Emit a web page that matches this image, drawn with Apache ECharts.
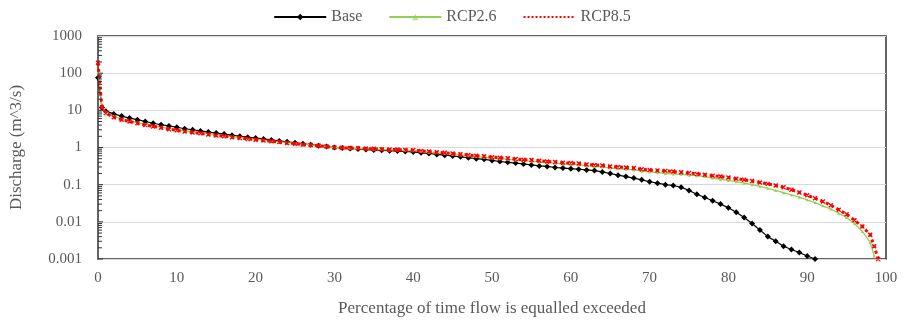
<!DOCTYPE html>
<html lang="en">
<head>
<meta charset="UTF-8">
<title>Flow duration curves</title>
<style>
  html, body { margin: 0; padding: 0; background: #fff; }
  #main { width: 904px; height: 322px; }
</style>
</head>
<body>
<div id="main"></div>
<script src="https://cdn.jsdelivr.net/npm/echarts@6/dist/echarts.min.js"></script>
<script>
// percentage of time exceeded (x positions)
var pct = [0, 0.5, 1, 2, 3, 4, 5, 6, 7, 8, 9, 10,
  11, 12, 13, 14, 15, 16, 17, 18, 19, 20,
  21, 22, 23, 24, 25, 26, 27, 28, 29, 30,
  31, 32, 33, 34, 35, 36, 37, 38, 39, 40,
  41, 42, 43, 44, 45, 46, 47, 48, 49, 50,
  51, 52, 53, 54, 55, 56, 57, 58, 59, 60,
  61, 62, 63, 64, 65, 66, 67, 68, 69, 70,
  71, 72, 73, 74, 75, 76, 77, 78, 79, 80,
  81, 82, 83, 84, 85, 86, 87, 88, 89, 90,
  91, 92, 93, 94, 95, 96, 97, 98, 98.5, 99];

// discharge, m^3/s
var base = [75, 12, 9.5, 8, 7, 6.2, 5.6, 5.0, 4.5, 4.1, 3.8, 3.5,
  3.2, 3.0, 2.8, 2.6, 2.45, 2.3, 2.15, 2.0, 1.9, 1.8,
  1.7, 1.6, 1.5, 1.42, 1.34, 1.26, 1.19, 1.12, 1.06, 1.0,
  0.97, 0.94, 0.91, 0.88, 0.86, 0.84, 0.82, 0.8, 0.78, 0.76,
  0.72, 0.69, 0.65, 0.62, 0.59, 0.56, 0.53, 0.5, 0.48, 0.45,
  0.42, 0.4, 0.38, 0.36, 0.34, 0.32, 0.31, 0.29, 0.28, 0.27,
  0.26, 0.25, 0.24, 0.22, 0.2, 0.18, 0.165, 0.15, 0.135, 0.12,
  0.11, 0.1, 0.095, 0.085, 0.07, 0.055, 0.045, 0.037, 0.03, 0.024,
  0.018, 0.013, 0.009, 0.006, 0.004, 0.003, 0.0022, 0.0018, 0.0015, 0.0012,
  0.001];

var rcp26 = [110, 12.5, 9, 7, 5.8, 5.2, 4.7, 4.2, 3.85, 3.55, 3.25, 3.0,
  2.8, 2.65, 2.5, 2.35, 2.2, 2.08, 1.97, 1.86, 1.76, 1.67,
  1.58, 1.5, 1.42, 1.35, 1.29, 1.23, 1.17, 1.12, 1.05, 1.0,
  0.98, 0.96, 0.94, 0.92, 0.9, 0.88, 0.86, 0.85, 0.83, 0.82,
  0.78, 0.75, 0.72, 0.69, 0.66, 0.63, 0.6, 0.57, 0.55, 0.52,
  0.5, 0.48, 0.46, 0.44, 0.43, 0.41, 0.39, 0.38, 0.36, 0.35,
  0.34, 0.32, 0.31, 0.3, 0.28, 0.27, 0.26, 0.25, 0.23, 0.22,
  0.21, 0.2, 0.195, 0.19, 0.18, 0.175, 0.165, 0.15, 0.14, 0.13,
  0.12, 0.11, 0.1, 0.09, 0.08, 0.07, 0.061, 0.053, 0.046, 0.039,
  0.033, 0.027, 0.022, 0.017, 0.013, 0.009, 0.0055, 0.0028, 0.0012];

var rcp85 = [190, 12, 8.5, 6.5, 5.6, 5.0, 4.5, 4.0, 3.7, 3.4, 3.1, 2.9,
  2.7, 2.55, 2.4, 2.25, 2.1, 2.0, 1.9, 1.8, 1.7, 1.62,
  1.54, 1.47, 1.4, 1.33, 1.27, 1.21, 1.16, 1.11, 1.06, 1.0,
  0.98, 0.97, 0.95, 0.93, 0.92, 0.9, 0.89, 0.88, 0.86, 0.85,
  0.81, 0.78, 0.75, 0.72, 0.69, 0.66, 0.63, 0.6, 0.58, 0.55,
  0.53, 0.51, 0.49, 0.47, 0.46, 0.44, 0.42, 0.41, 0.39, 0.38,
  0.37, 0.35, 0.34, 0.33, 0.31, 0.3, 0.29, 0.28, 0.26, 0.25,
  0.24, 0.235, 0.225, 0.215, 0.205, 0.195, 0.185, 0.175, 0.165, 0.155,
  0.145, 0.135, 0.125, 0.115, 0.105, 0.095, 0.085, 0.073, 0.062, 0.052,
  0.043, 0.035, 0.028, 0.021, 0.016, 0.011, 0.0075, 0.0045, 0.0022, 0.001];

var yTicks = [0.001, 0.01, 0.1, 1, 10, 100, 1000];

function pairs(vals) {
  var out = [];
  for (var i = 0; i < vals.length; i++) out.push([pct[i], vals[i]]);
  return out;
}

var FONT = '"Liberation Serif", "Times New Roman", serif';
var GREY = '#595959';

var myChart = echarts.init(document.getElementById('main'));

var option = {
  animation: false,
  textStyle: { fontFamily: FONT },
  legend: {
    top: 4,
    left: 'center',
    itemWidth: 52,
    itemHeight: 8,
    itemGap: 26,
    textStyle: { fontFamily: FONT, fontSize: 16, color: GREY },
    data: [
      { name: 'Base' },
      { name: 'RCP2.6', itemStyle: { opacity: 0.6 } },
      { name: 'RCP8.5', itemStyle: { opacity: 0 } }
    ]
  },
  grid: {
    left: 98,
    top: 36,
    right: 18,
    bottom: 62,
    show: true,
    borderColor: '#333',
    borderWidth: 1.5
  },
  xAxis: {
    type: 'value',
    min: 0,
    max: 100,
    interval: 10,
    name: 'Percentage of time flow is equalled exceeded',
    nameLocation: 'middle',
    nameGap: 41,
    nameTextStyle: { fontFamily: FONT, fontSize: 17, color: GREY },
    axisLine: { show: false },
    axisTick: { show: false },
    splitLine: { show: false },
    axisLabel: { fontFamily: FONT, fontSize: 15, color: GREY, margin: 12 }
  },
  yAxis: {
    type: 'log',
    logBase: 10,
    min: 0.001,
    max: 1000,
    name: 'Discharge (m^3/s)',
    nameLocation: 'middle',
    nameGap: 73,
    nameTextStyle: { fontFamily: FONT, fontSize: 17, color: GREY },
    axisLine: { show: false },
    axisTick: { show: false },
    splitLine: { show: true, lineStyle: { color: '#d9d9d9', width: 1 } },
    axisLabel: {
      fontFamily: FONT, fontSize: 15, color: GREY, margin: 16,
      formatter: function (v) {
        for (var i = 0; i < yTicks.length; i++) {
          if (Math.abs(v - yTicks[i]) / yTicks[i] < 1e-6) return String(yTicks[i]);
        }
        return '';
      }
    }
  },
  series: [
    {
      name: 'Base',
      type: 'line',
      data: pairs(base),
      symbol: 'diamond',
      symbolSize: 6,
      showAllSymbol: true,
      itemStyle: { color: '#000' },
      lineStyle: { color: '#000', width: 1.2 },
      z: 2
    },
    {
      name: 'RCP2.6',
      type: 'line',
      data: pairs(rcp26),
      symbol: 'triangle',
      symbolSize: 3,
      showAllSymbol: true,
      itemStyle: { color: '#92d050' },
      lineStyle: { color: '#92d050', width: 1.3 },
      z: 3
    },
    {
      name: 'RCP8.5',
      type: 'line',
      data: pairs(rcp85),
      symbol: 'path://M0,0 L10,10 M10,0 L0,10 Z',
      symbolSize: 4,
      showAllSymbol: true,
      itemStyle: { color: '#ff0000', borderColor: '#ff0000', borderWidth: 1.4 },
      lineStyle: { color: '#ff0000', width: 3, type: 'dotted' },
      z: 4
    }
  ]
};

myChart.setOption(option);

// log minor ticks on the inside of the y axis
var ticks = [];
var x0 = myChart.convertToPixel({ xAxisIndex: 0 }, 0);
for (var e = -3; e < 3; e++) {
  for (var k = 1; k <= 9; k++) {
    var v = k * Math.pow(10, e);
    var py = myChart.convertToPixel({ yAxisIndex: 0 }, v);
    var len = k === 1 ? 5 : 4;
    ticks.push({
      type: 'line',
      shape: { x1: x0, y1: py, x2: x0 + len, y2: py },
      style: { stroke: '#333', lineWidth: 1 },
      z: 10
    });
  }
}
myChart.setOption({ graphic: ticks });
</script>
</body>
</html>
